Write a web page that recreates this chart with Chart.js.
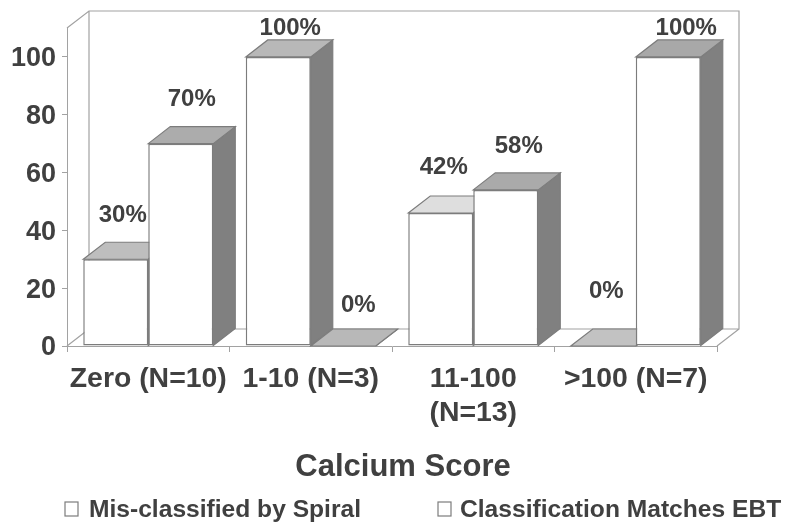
<!DOCTYPE html>
<html>
<head>
<meta charset="utf-8">
<title>Calcium Score</title>
<script src="https://cdn.jsdelivr.net/npm/chart.js@4"></script>
<style>
  html, body { margin: 0; padding: 0; background: #fff; }
  canvas { display: block; }
</style>
</head>
<body>
<canvas id="calciumChart" width="787" height="522"></canvas>
<script>
const categories = ['Zero (N=10)', '1-10 (N=3)', ['11-100', '(N=13)'], '>100 (N=7)'];
const misclassified = [30, 100, 46, 0];
const matchesEbt = [70, 0, 54, 100];
const misclassifiedLabels = ['30%', '100%', '42%', '0%'];
const matchesEbtLabels = ['70%', '0%', '58%', '100%'];
const yTicks = [0, 20, 40, 60, 80, 100];
const seriesNames = ['Mis-classified by Spiral', 'Classification Matches EBT'];
const axisTitle = 'Calcium Score';

// label nudges from the top of each bar, [dx, dy]
const misclassifiedNudge = [[7, -44], [12, -29], [3, -46], [3, -55]];
const matchesEbtNudge = [[11, -44], [15, -41], [13, -44], [18, -29]];

// depth of the fake 3d box
const DEPTH_X = 22;
const DEPTH_Y = 17;
const TEXT = '#404040';
const EDGE = '#7c7c7c';
const WALL = '#a2a2a2';
const SIDE = '#808080';
const misclassifiedTop = ['#bebebe', '#b8b8b8', '#dedede', '#c2c2c2'];
const matchesEbtTop = ['#acacac', '#b8b8b8', '#aaaaaa', '#a8a8a8'];

function poly(ctx, pts, fill, stroke) {
    ctx.beginPath();
    pts.forEach((p, i) => i ? ctx.lineTo(p[0], p[1]) : ctx.moveTo(p[0], p[1]));
    ctx.closePath();
    if (fill) {
        ctx.fillStyle = fill;
        ctx.fill();
    }
    if (stroke) {
        ctx.strokeStyle = stroke;
        ctx.lineWidth = 1.2;
        ctx.stroke();
    }
}

const box3d = {
    id: 'box3d',
    beforeDatasetsDraw(chart) {
        const ctx = chart.ctx;
        const {left, right, top, bottom} = chart.chartArea;

        // back wall and floor
        ctx.save();
        ctx.strokeStyle = WALL;
        ctx.lineWidth = 1.2;
        ctx.beginPath();
        ctx.moveTo(left, top);
        ctx.lineTo(left + DEPTH_X, top - DEPTH_Y);
        ctx.lineTo(right + DEPTH_X, top - DEPTH_Y);
        ctx.lineTo(right + DEPTH_X, bottom - DEPTH_Y);
        ctx.lineTo(left + DEPTH_X, bottom - DEPTH_Y);
        ctx.lineTo(left + DEPTH_X, top - DEPTH_Y);
        ctx.moveTo(left, bottom);
        ctx.lineTo(left + DEPTH_X, bottom - DEPTH_Y);
        ctx.moveTo(right, bottom);
        ctx.lineTo(right + DEPTH_X, bottom - DEPTH_Y);
        ctx.stroke();

        // top and side faces, the library draws the fronts afterwards
        chart.data.datasets.forEach((ds, d) => {
            const tops = d === 0 ? misclassifiedTop : matchesEbtTop;
            chart.getDatasetMeta(d).data.forEach((bar, i) => {
                const l = bar.x - bar.width / 2;
                const r = bar.x + bar.width / 2;
                poly(ctx, [[r, bar.y], [r + DEPTH_X, bar.y - DEPTH_Y], [r + DEPTH_X, bar.base - DEPTH_Y], [r, bar.base]], SIDE, EDGE);
                poly(ctx, [[l, bar.y], [l + DEPTH_X, bar.y - DEPTH_Y], [r + DEPTH_X, bar.y - DEPTH_Y], [r, bar.y]], tops[i], EDGE);
            });
        });
        ctx.restore();
    },
    afterDatasetsDraw(chart) {
        const ctx = chart.ctx;
        const {right, left} = chart.chartArea;
        ctx.save();
        ctx.fillStyle = TEXT;
        ctx.textAlign = 'center';
        ctx.textBaseline = 'middle';

        // percent labels above the bars
        ctx.font = 'bold 24px "Liberation Sans"';
        chart.data.datasets.forEach((ds, d) => {
            const texts = d === 0 ? misclassifiedLabels : matchesEbtLabels;
            const nudge = d === 0 ? misclassifiedNudge : matchesEbtNudge;
            chart.getDatasetMeta(d).data.forEach((bar, i) => {
                ctx.fillText(texts[i], bar.x + nudge[i][0], bar.y + nudge[i][1]);
            });
        });

        ctx.font = 'bold 31px "Liberation Sans"';
        ctx.fillText(axisTitle, (left + right + DEPTH_X) / 2, 467);

        // legend, wider spread than the built in one allows
        ctx.font = 'bold 24.6px "Liberation Sans"';
        ctx.textAlign = 'left';
        [[65, 89], [438, 460]].forEach((pos, i) => {
            ctx.fillStyle = '#ffffff';
            ctx.strokeStyle = EDGE;
            ctx.lineWidth = 1.2;
            ctx.fillRect(pos[0], 502, 13, 14);
            ctx.strokeRect(pos[0], 502, 13, 14);
            ctx.fillStyle = TEXT;
            ctx.fillText(seriesNames[i], pos[1], 510);
        });
        ctx.restore();
    }
};

const ctx = document.getElementById('calciumChart').getContext('2d');
new Chart(ctx, {
    type: 'bar',
    data: {
        labels: categories,
        datasets: [
            {
                label: seriesNames[0],
                data: misclassified,
                backgroundColor: '#ffffff',
                borderColor: EDGE,
                borderWidth: 1.5,
                borderSkipped: false
            },
            {
                label: seriesNames[1],
                data: matchesEbt,
                backgroundColor: '#ffffff',
                borderColor: EDGE,
                borderWidth: 1.5,
                borderSkipped: false
            }
        ]
    },
    options: {
        responsive: false,
        animation: false,
        layout: {
            padding: {top: 28, right: 70, bottom: 80}
        },
        datasets: {
            bar: {categoryPercentage: 0.8, barPercentage: 1}
        },
        scales: {
            x: {
                afterFit(scale) { scale.height = 96; },
                grid: {drawOnChartArea: false, tickLength: 6, tickColor: WALL},
                border: {color: WALL},
                ticks: {
                    color: TEXT,
                    padding: 10,
                    maxRotation: 0,
                    autoSkip: false,
                    font: {family: '"Liberation Sans"', size: 28.4, weight: 'bold', lineHeight: 1.2}
                }
            },
            y: {
                min: 0,
                max: 110,
                afterFit(scale) { scale.width = 67; },
                afterBuildTicks(scale) { scale.ticks = yTicks.map(v => ({value: v})); },
                grid: {drawOnChartArea: false, tickLength: 5, tickColor: WALL},
                border: {color: WALL},
                ticks: {
                    color: TEXT,
                    padding: 6,
                    labelOffset: 2,
                    font: {family: '"Liberation Sans"', size: 27, weight: 'bold'}
                }
            }
        },
        plugins: {
            legend: {display: false},
            tooltip: {enabled: false}
        }
    },
    plugins: [box3d]
});
</script>
</body>
</html>
